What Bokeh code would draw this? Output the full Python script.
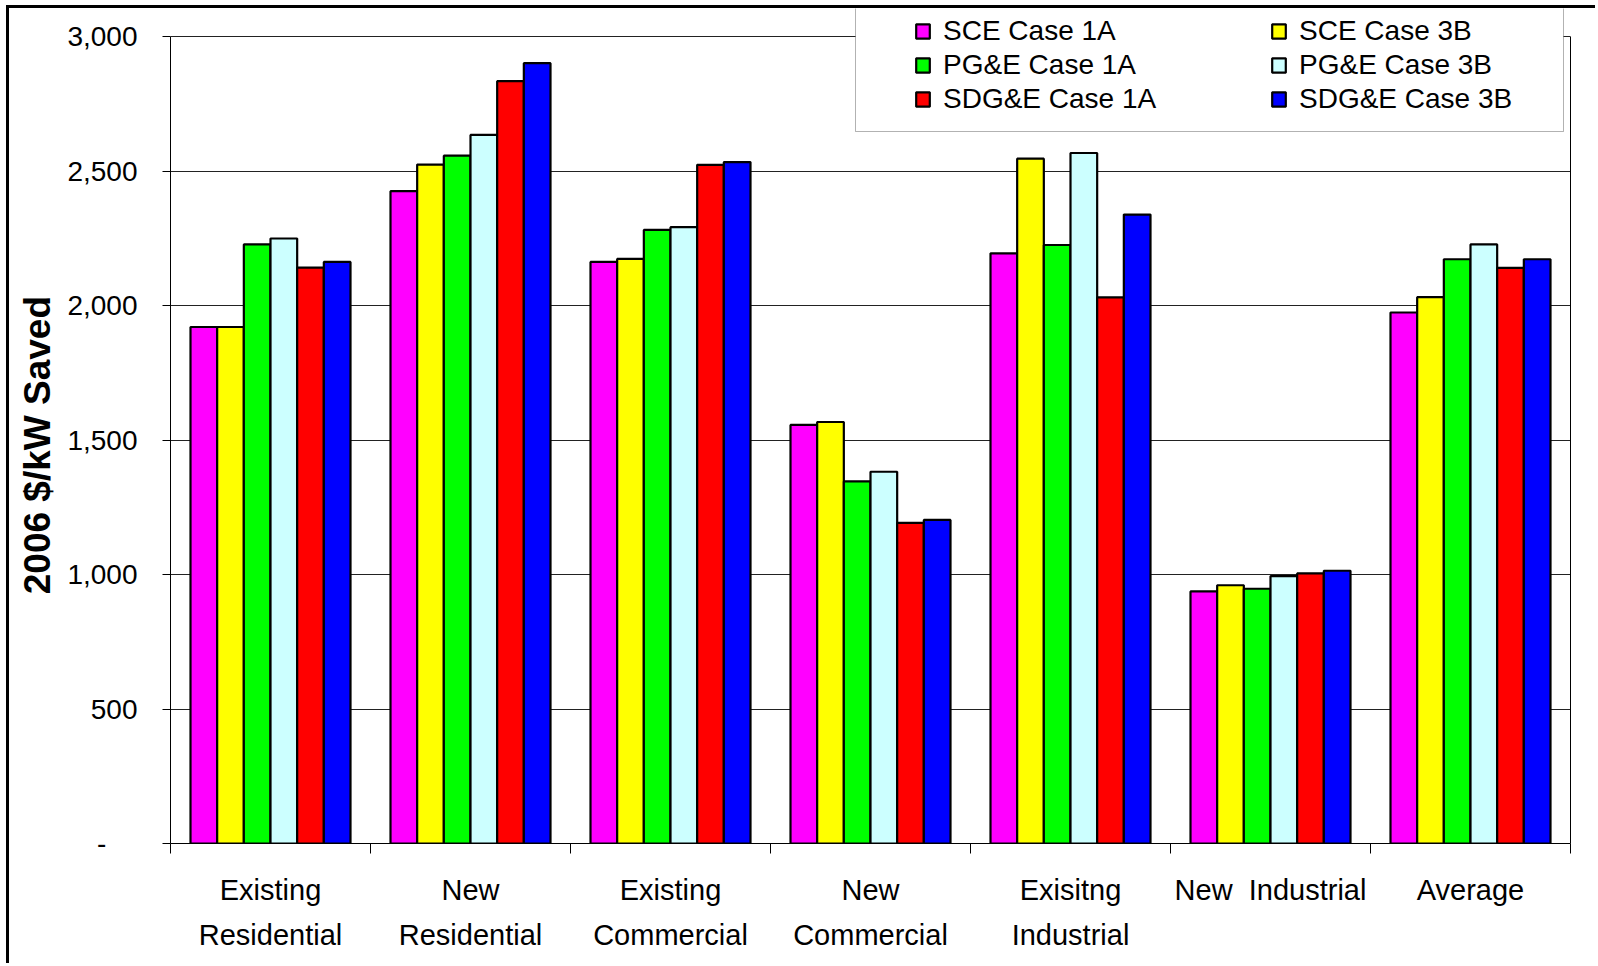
import numpy as np
from bokeh.plotting import figure
from bokeh.models import Range1d, FixedTicker, Legend, LegendItem, BoxAnnotation, LinearAxis
from bokeh.embed import file_html
from bokeh.resources import INLINE

# Customer classes along the x axis
categories = ["Existing\nResidential", "New\nResidential", "Existing\nCommercial",
              "New\nCommercial", "Exisitng\nIndustrial", "New\u00a0 Industrial", "Average"]

# Cost per kW saved (2006 $) for each utility / case
series_names = ["SCE Case 1A", "SCE Case 3B", "PG&E Case 1A",
                "PG&E Case 3B", "SDG&E Case 1A", "SDG&E Case 3B"]
sce_1a = [1920, 2425, 2162, 1556, 2194, 937, 1974]
sce_3b = [1920, 2524, 2173, 1567, 2546, 960, 2031]
pge_1a = [2227, 2557, 2281, 1346, 2225, 947, 2172]
pge_3b = [2249, 2634, 2291, 1382, 2567, 994, 2227]
sdge_1a = [2141, 2834, 2523, 1192, 2030, 1004, 2140]
sdge_3b = [2162, 2901, 2533, 1203, 2338, 1014, 2172]

y_ticks = [0, 500, 1000, 1500, 2000, 2500, 3000]
y_tick_labels = ["-\u2007\u2007", "500", "1,000", "1,500", "2,000", "2,500", "3,000"]

series_values = [sce_1a, sce_3b, pge_1a, pge_3b, sdge_1a, sdge_3b]
series_colors = ["#FF00FF", "#FFFF00", "#00FF00", "#CCFFFF", "#FF0000", "#0000FF"]

FONT = "Liberation Sans"

n_cat = len(categories)
n_ser = len(series_names)
bar_w = 1.0 / (n_ser + 1.5)          # 150% gap between groups
centers = np.arange(n_cat) + 0.5

# canvas sits inside a framed box; the plot area runs up to the canvas top so
# the legend (which overhangs the value axis) is not clipped
W, H = 1589, 958
frame_h = 835                         # plot-area height in px
axis_px = 807                         # px spanned by 0..3000
y_max = y_ticks[-1] * frame_h / axis_px

p = figure(width=W, height=H, output_backend="svg", toolbar_location=None,
           x_range=Range1d(0, n_cat), y_range=Range1d(0, y_max),
           min_border_left=161, min_border_right=28,
           min_border_top=0, min_border_bottom=H - frame_h,
           background_fill_color="white", border_fill_color="white")
p.margin = (5, 0, 0, 6)
p.styles = {"border-left": "3px solid black", "border-top": "3px solid black"}
p.outline_line_color = None

renderers = []
for j, (vals, col) in enumerate(zip(series_values, series_colors)):
    xs = centers + (j - (n_ser - 1) / 2) * bar_w
    r = p.vbar(x=xs, top=vals, bottom=0, width=bar_w,
               fill_color=col, line_color="black", line_width=2.2)
    renderers.append(r)

# x axis: labels at category centres, tick marks at category boundaries
p.xaxis.ticker = FixedTicker(ticks=list(centers), minor_ticks=list(range(n_cat + 1)))
p.xaxis.major_label_overrides = {float(c): lab for c, lab in zip(centers, categories)}
p.xaxis.major_tick_out = 0
p.xaxis.major_tick_in = 0
p.xaxis.minor_tick_out = 10
p.xaxis.minor_tick_in = 0
p.xaxis.minor_tick_line_color = "black"
p.xaxis.axis_line_color = "black"
p.xaxis.major_label_standoff = 20
p.xaxis.major_label_text_font = FONT
p.xaxis.major_label_text_font_size = "29px"
p.xaxis.major_label_text_line_height = 1.42
p.xaxis.major_label_text_color = "black"
p.xgrid.grid_line_color = None

# y axis
p.yaxis.ticker = FixedTicker(ticks=y_ticks, minor_ticks=[])
p.yaxis.bounds = (y_ticks[0], y_ticks[-1])
p.yaxis.major_label_overrides = {t: lab for t, lab in zip(y_ticks, y_tick_labels)}
p.yaxis.major_tick_out = 8
p.yaxis.major_tick_in = 0
p.yaxis.major_tick_line_color = "black"
p.yaxis.axis_line_color = "black"
p.yaxis.major_label_standoff = 25
p.yaxis.major_label_text_font = FONT
p.yaxis.major_label_text_font_size = "28px"
p.yaxis.major_label_text_color = "black"
p.yaxis.axis_label = "2006 $/kW Saved\u00a0\u00a0\u00a0\u2009"
p.yaxis.axis_label_text_font = FONT
p.yaxis.axis_label_text_font_style = "bold"
p.yaxis.axis_label_text_font_size = "37px"
p.yaxis.axis_label_text_color = "black"
p.yaxis.axis_label_standoff = 6
p.ygrid.ticker = FixedTicker(ticks=y_ticks[1:])
p.ygrid.grid_line_color = "#222222"
p.ygrid.grid_line_width = 1

# right-hand edge of the plot area
right_edge = LinearAxis(ticker=FixedTicker(ticks=[]), bounds=(y_ticks[0], y_ticks[-1]),
                        axis_line_color="black", major_label_text_font_size="0px",
                        major_tick_out=0, major_tick_in=0, minor_tick_out=0, minor_tick_in=0)
p.add_layout(right_edge, "right")

# legend box
legend_box = BoxAnnotation(left=843, right=1551, top=-5, bottom=120,
                           left_units="canvas", right_units="canvas",
                           top_units="canvas", bottom_units="canvas",
                           fill_color="white", fill_alpha=1,
                           line_color="black", line_width=1)
p.add_layout(legend_box)

items = [LegendItem(label=name, renderers=[r]) for name, r in zip(series_names, renderers)]
legend = Legend(items=items, orientation="horizontal", ncols=2,
                location=(744, 728), margin=0, padding=0, spacing=2,
                glyph_width=17, glyph_height=18, label_standoff=12,
                label_width=325, label_height=32,
                label_text_font=FONT, label_text_font_size="28px",
                label_text_color="black",
                border_line_color=None, background_fill_alpha=0)
p.add_layout(legend, "center")

open("out.html", "w").write(file_html(p, INLINE))
